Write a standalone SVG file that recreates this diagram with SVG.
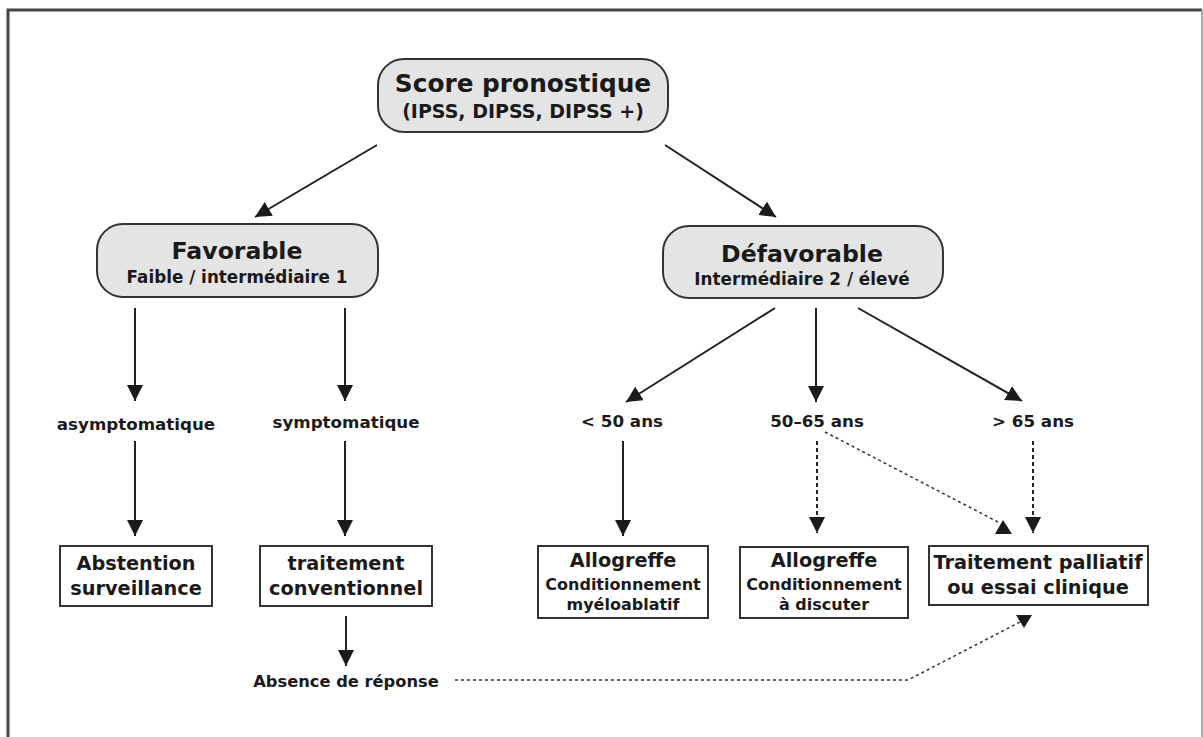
<svg xmlns="http://www.w3.org/2000/svg" width="1203" height="737" viewBox="0 0 1203 737">
  <style>
    text { font-family: "DejaVu Sans", "Liberation Sans", sans-serif; font-weight: bold; fill: #1a1a1a; text-anchor: middle; }
    .pill { fill: #e4e4e4; stroke: #333; stroke-width: 2; }
    .box { fill: #fff; stroke: #333; stroke-width: 2; }
    .solid { stroke: #222; stroke-width: 2; fill: none; }
    .dash { stroke: #222; stroke-width: 2; fill: none; stroke-dasharray: 4 3; }
    .dot { stroke: #333; stroke-width: 1.5; fill: none; stroke-dasharray: 3 3; }
    .head { fill: #1a1a1a; }
    .t1 { font-size: 24.8px; }
    .t2 { font-size: 19px; }
    .p1 { font-size: 23.6px; }
    .p2 { font-size: 16.8px; }
    .tb { font-size: 19.3px; }
    .ts { font-size: 16px; }
    .tl { font-size: 16.7px; }
    .ta { font-size: 16.3px; }
  </style>
  <defs>
    <marker id="tri" viewBox="0 0 16 16" refX="16" refY="8" markerWidth="16" markerHeight="16" markerUnits="userSpaceOnUse" orient="auto">
      <path d="M0,0 L16,8 L0,16 z" fill="#1a1a1a"/>
    </marker>
  </defs>

  <rect x="0" y="0" width="1203" height="737" fill="#fff"/>
  <!-- outer frame -->
  <path d="M8,737 L8,10 L1202,10" fill="none" stroke="#444" stroke-width="3"/>
  <line x1="1202" y1="10" x2="1202" y2="737" stroke="#aaa" stroke-width="2"/>

  <!-- connectors -->
  <g id="connectors">
    <line class="solid" x1="377" y1="145" x2="255" y2="217" marker-end="url(#tri)"/>
    <line class="solid" x1="665" y1="145" x2="776" y2="217" marker-end="url(#tri)"/>

    <line class="solid" x1="135" y1="308" x2="135" y2="401" marker-end="url(#tri)"/>
    <line class="solid" x1="345" y1="308" x2="345" y2="401" marker-end="url(#tri)"/>
    <line class="solid" x1="135" y1="441" x2="135" y2="536" marker-end="url(#tri)"/>
    <line class="solid" x1="345" y1="441" x2="345" y2="536" marker-end="url(#tri)"/>
    <line class="solid" x1="346" y1="616" x2="346" y2="666" marker-end="url(#tri)"/>

    <line class="solid" x1="775" y1="308" x2="626" y2="402" marker-end="url(#tri)"/>
    <line class="solid" x1="816" y1="308" x2="816" y2="402" marker-end="url(#tri)"/>
    <line class="solid" x1="858" y1="308" x2="1022" y2="401" marker-end="url(#tri)"/>

    <line class="solid" x1="623" y1="441" x2="623" y2="536" marker-end="url(#tri)"/>
    <line class="dash" x1="817" y1="441" x2="817" y2="533" marker-end="url(#tri)"/>
    <line class="dash" x1="1033" y1="441" x2="1033" y2="533" marker-end="url(#tri)"/>

    <polyline class="dot" points="825,432 998,522"/>
    <polygon class="head" points="995,534 1003,520 1012,534"/>
    <polyline class="dot" points="455,680 908,680 1020,622"/>
    <polygon class="head" points="1016,615 1032,615 1024,628"/>
  </g>

  <g id="node-score">
    <rect class="pill" x="378" y="59" width="290" height="73" rx="26"/>
    <text class="t1" x="523" y="92">Score pronostique</text>
    <text class="t2" x="523" y="118">(IPSS, DIPSS, DIPSS +)</text>
  </g>

  <g id="node-favorable">
    <rect class="pill" x="97" y="224" width="281" height="73" rx="26"/>
    <text class="p1" x="237" y="259">Favorable</text>
    <text class="p2" x="237" y="283">Faible / intermédiaire 1</text>
  </g>

  <g id="node-defavorable">
    <rect class="pill" x="663" y="226" width="280" height="72" rx="26"/>
    <text class="p1" x="802" y="262">Défavorable</text>
    <text class="p2" x="802" y="285">Intermédiaire 2 / élevé</text>
  </g>

  <g id="label-asymptomatique"><text class="tl" x="136" y="430">asymptomatique</text></g>
  <g id="label-symptomatique"><text class="tl" x="346" y="428">symptomatique</text></g>
  <g id="label-lt50"><text class="tl" x="622" y="427">&lt; 50 ans</text></g>
  <g id="label-50-65"><text class="tl" x="817" y="427">50–65 ans</text></g>
  <g id="label-gt65"><text class="tl" x="1033" y="427">&gt; 65 ans</text></g>

  <g id="node-abstention">
    <rect class="box" x="60" y="546" width="152" height="60"/>
    <text class="tb" x="136" y="570">Abstention</text>
    <text class="tb" x="136" y="595">surveillance</text>
  </g>

  <g id="node-conventionnel">
    <rect class="box" x="260" y="546" width="172" height="60"/>
    <text class="tb" x="346" y="570">traitement</text>
    <text class="tb" x="346" y="595">conventionnel</text>
  </g>

  <g id="label-absence"><text class="ta" x="346" y="687">Absence de réponse</text></g>

  <g id="node-allo-myelo">
    <rect class="box" x="538" y="546" width="170" height="72"/>
    <text class="tb" x="623" y="567">Allogreffe</text>
    <text class="ts" x="623" y="590">Conditionnement</text>
    <text class="ts" x="623" y="610">myéloablatif</text>
  </g>

  <g id="node-allo-discuter">
    <rect class="box" x="740" y="547" width="168" height="71"/>
    <text class="tb" x="824" y="567">Allogreffe</text>
    <text class="ts" x="824" y="590">Conditionnement</text>
    <text class="ts" x="824" y="610">à discuter</text>
  </g>

  <g id="node-palliatif">
    <rect class="box" x="929" y="546" width="219" height="59"/>
    <text class="tb" x="1038" y="569">Traitement palliatif</text>
    <text class="tb" x="1038" y="594">ou essai clinique</text>
  </g>
</svg>
